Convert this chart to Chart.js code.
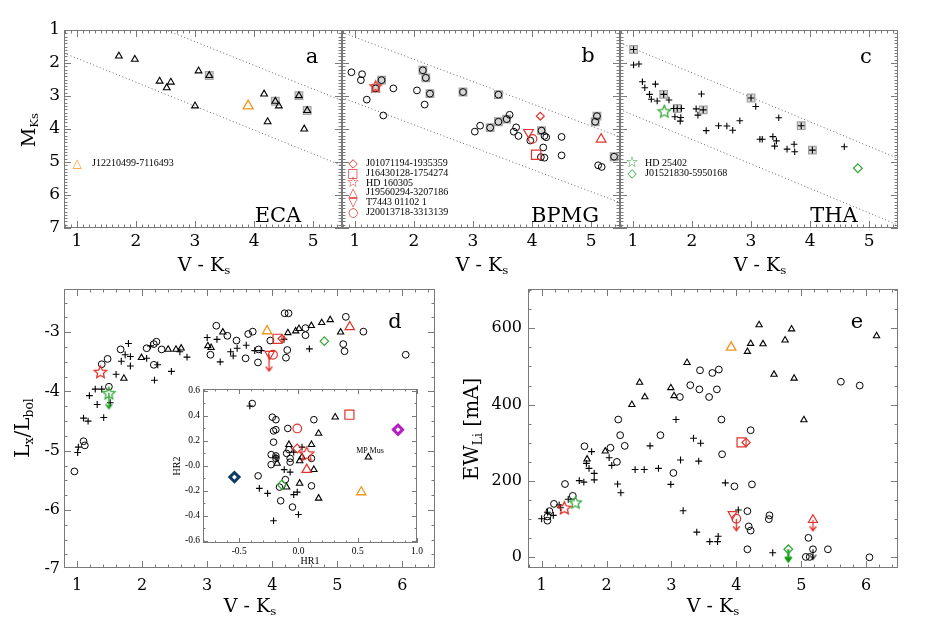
<!DOCTYPE html>
<html><head><meta charset="utf-8"><title>Young association members</title>
<script src="https://cdn.jsdelivr.net/npm/chart.js@4.4.1/dist/chart.umd.min.js"></script>
<style>
html,body{margin:0;padding:0;background:#fff;}
#fig{position:relative;width:926px;height:618px;overflow:hidden;background:#fff;}
#fig canvas{position:absolute;}
.t{position:absolute;white-space:nowrap;color:#000;line-height:1;font-family:'DejaVu Serif',serif;transform:translate(-50%,-50%);}
.rot{transform:translate(-50%,-50%) rotate(-90deg);}
.l{position:absolute;white-space:nowrap;color:#000;line-height:1;font-family:'Liberation Serif',serif;font-size:10px;transform:translateY(-50%);}
.g{position:absolute;line-height:1;font-family:'DejaVu Sans',sans-serif;font-size:12px;transform:translate(-50%,-50%);}
sub{font-size:0.62em;vertical-align:-0.3em;line-height:0;}
</style></head>
<body><div id="fig">
<canvas id="ca"></canvas><canvas id="cb"></canvas><canvas id="cc"></canvas>
<canvas id="cd"></canvas><canvas id="ce"></canvas><canvas id="ci"></canvas>

<div class="t rot" style="left:28px;top:130px;font-size:19px">M<sub>Ks</sub></div>
<div class="t" style="left:204px;top:264px;font-size:19px">V - K<sub>s</sub></div>
<div class="t" style="left:482px;top:264px;font-size:19px">V - K<sub>s</sub></div>
<div class="t" style="left:760px;top:264px;font-size:19px">V - K<sub>s</sub></div>
<div class="t" style="left:250px;top:605px;font-size:19px">V - K<sub>s</sub></div>
<div class="t" style="left:713px;top:605px;font-size:19px">V - K<sub>s</sub></div>
<div class="t rot" style="left:22px;top:428px;font-size:20px">L<sub>x</sub>/L<sub>bol</sub></div>
<div class="t rot" style="left:471px;top:429px;font-size:20px">EW<sub>Li</sub> [mA]</div>

<div class="t" style="left:312px;top:56px;font-size:21px">a</div>
<div class="t" style="left:588px;top:55px;font-size:21px">b</div>
<div class="t" style="left:866px;top:56px;font-size:21px">c</div>
<div class="t" style="left:395px;top:321px;font-size:21px">d</div>
<div class="t" style="left:857px;top:321px;font-size:21px">e</div>
<div class="t" style="left:278px;top:215px;font-size:21px">ECA</div>
<div class="t" style="left:565px;top:215px;font-size:21px">BPMG</div>
<div class="t" style="left:834px;top:215px;font-size:21px">THA</div>

<div class="g" style="left:77px;top:163px;color:#f0961e">△</div>
<div class="l" style="left:92px;top:163px">J12210499-7116493</div>

<div class="g" style="left:353px;top:163px;color:#e0332b">◇</div>
<div class="l" style="left:366px;top:163px">J01071194-1935359</div>
<div class="g" style="left:353px;top:173px;color:#e0332b">□</div>
<div class="l" style="left:366px;top:173px">J16430128-1754274</div>
<div class="g" style="left:353px;top:182px;color:#e0332b;font-size:15px">☆</div>
<div class="l" style="left:366px;top:183px">HD 160305</div>
<div class="g" style="left:353px;top:192px;color:#e0332b">△</div>
<div class="l" style="left:366px;top:192px">J19560294-3207186</div>
<div class="g" style="left:353px;top:202px;color:#e0332b">▽</div>
<div class="l" style="left:366px;top:202px">T7443 01102 1</div>
<div class="g" style="left:353px;top:212px;color:#e0332b">○</div>
<div class="l" style="left:366px;top:212px">J20013718-3313139</div>

<div class="g" style="left:632px;top:162px;color:#34a83a;font-size:15px">☆</div>
<div class="l" style="left:645px;top:163px">HD 25402</div>
<div class="g" style="left:632px;top:173px;color:#34a83a">◇</div>
<div class="l" style="left:645px;top:173px">J01521830-5950168</div>

<div class="t" style="left:310px;top:561px;font-size:10px;font-family:'Liberation Serif',serif">HR1</div>
<div class="t rot" style="left:177px;top:466px;font-size:10px;font-family:'Liberation Serif',serif">HR2</div>
<div class="t" style="left:370px;top:451px;font-size:8px;font-family:'Liberation Serif',serif">MP Mus</div>
</div>
<script>
// ---------------- DATA ----------------
// Tick labels
const VK_TICKS_TOP = [1, 2, 3, 4, 5];
const MKS_TICKS = [1, 2, 3, 4, 5, 6, 7];
const VK_TICKS_BOT = [1, 2, 3, 4, 5, 6];
const LX_TICKS = [-7, -6, -5, -4, -3];
const EW_TICKS = [0, 200, 400, 600];
const HR1_TICKS = [-0.5, 0, 0.5, 1.0];
const HR2_TICKS = [-0.6, -0.4, -0.2, 0, 0.2, 0.4, 0.6];

// Panel a: ECA  [V-Ks, M_Ks]
const ecaTri = [[1.71,1.79],[1.98,1.89],[2.40,2.55],[2.52,2.75],[2.59,2.58],[3.06,2.24],[3.24,2.38],[3.00,3.30],[4.17,2.94],[4.36,3.16],[4.42,3.30],[4.23,3.78],[4.76,2.99],[4.90,3.44],[4.85,4.00]];
const ecaBoxed = [[3.24,2.38],[4.36,3.16],[4.76,2.99],[4.90,3.44]];
const ecaJ1221 = [[3.90,3.30]];
const ecaIsoLow = [[0.78,1.70],[5.49,5.11]];
const ecaIsoUp = [[0.78,-0.24],[5.49,3.14]];

// Panel b: BPMG
const bpmgCirc = [[0.94,2.28],[1.12,2.34],[1.10,2.52],[1.45,2.52],[1.35,2.77],[1.20,3.11],[1.48,3.59],[1.65,2.77],[2.05,2.83],[2.15,2.22],[2.20,2.45],[2.27,2.93],[2.18,3.26],[2.83,2.88],[3.43,2.96],[3.03,4.08],[3.12,3.90],[3.29,3.96],[3.43,3.78],[3.57,3.70],[3.62,3.57],[3.73,3.95],[3.69,4.08],[3.77,4.21],[3.97,4.35],[4.16,4.05],[4.21,4.21],[4.24,4.25],[4.19,4.56],[4.15,4.85],[4.21,4.87],[4.50,4.24],[4.50,4.80],[5.10,3.61],[5.07,3.78],[5.12,5.10],[5.18,5.15],[5.39,4.84]];
const bpmgBoxed = [[1.45,2.52],[1.35,2.77],[2.15,2.22],[2.20,2.45],[2.27,2.93],[2.83,2.88],[3.43,2.96],[3.29,3.96],[3.43,3.78],[3.57,3.70],[4.16,4.05],[5.10,3.61],[5.07,3.78],[5.39,4.84]];
const bpmgJ0107 = [[4.14,3.61]];
const bpmgJ1643 = [[4.07,4.78]];
const bpmgHD160305 = [[1.35,2.69]];
const bpmgJ1956 = [[5.17,4.31]];
const bpmgT7443 = [[3.94,4.10]];
const bpmgJ2001 = [[4.01,4.30]];
const bpmgIsoLow = [[0.78,3.05],[5.49,6.23]];
const bpmgIsoUp = [[0.78,1.07],[5.49,4.24]];

// Panel c: THA
const thaPlus = [[1.01,1.59],[1.01,2.06],[1.10,2.03],[1.16,2.57],[1.20,2.75],[1.38,2.64],[1.28,2.95],[1.31,3.10],[1.41,3.15],[1.52,2.95],[1.61,3.12],[1.69,3.38],[1.75,3.38],[1.82,3.38],[1.71,3.63],[1.81,3.65],[1.80,3.76],[2.16,2.94],[2.07,3.39],[2.19,3.42],[2.10,3.58],[2.24,4.05],[2.45,3.90],[2.59,3.91],[2.69,4.04],[2.81,3.75],[3.00,3.06],[3.08,3.32],[3.47,3.66],[3.15,4.31],[3.19,4.31],[3.37,4.23],[3.43,4.36],[3.40,4.52],[3.61,4.61],[3.73,4.46],[3.74,4.69],[3.85,3.90],[4.04,4.64],[4.58,4.54]];
const thaBoxed = [[1.01,1.59],[1.52,2.95],[1.75,3.38],[2.19,3.42],[3.00,3.06],[3.85,3.90],[4.04,4.64]];
const thaHD25402 = [[1.53,3.45]];
const thaJ0152 = [[4.81,5.19]];
const thaIsoLow = [[0.78,3.41],[5.49,6.91]];
const thaIsoUp = [[0.78,1.39],[5.49,4.89]];

// Panel d: V-Ks vs log Lx/Lbol
const dTri = [[3.24,-3.00],[3.01,-3.23],[3.06,-3.26],[4.24,-3.01],[4.36,-2.98],[4.41,-2.94],[4.60,-2.89],[4.76,-2.84],[4.89,-2.79],[5.05,-3.00],[1.72,-3.78],[1.99,-3.43],[2.40,-3.29],[2.52,-3.29],[2.60,-3.27]];
const dCirc = [[3.14,-2.89],[3.31,-3.06],[3.45,-3.14],[3.63,-3.03],[3.70,-2.99],[3.97,-3.14],[4.19,-2.68],[4.25,-2.68],[4.51,-2.93],[5.13,-2.74],[5.40,-2.99],[4.51,-3.05],[5.09,-3.20],[5.11,-3.32],[6.05,-3.38],[4.23,-3.30],[4.21,-3.43],[3.79,-3.29],[3.78,-3.51],[3.59,-3.44],[3.05,-3.38],[1.67,-3.29],[2.07,-3.27],[2.18,-3.20],[2.22,-3.16],[2.30,-3.29],[2.18,-3.55],[1.47,-3.45],[1.38,-3.54],[1.49,-3.92],[1.10,-4.84],[1.12,-4.91],[0.96,-5.35]];
const dPlus = [[1.79,-3.19],[1.74,-3.38],[1.68,-3.49],[1.82,-3.57],[1.60,-3.71],[1.82,-3.41],[2.07,-3.44],[2.13,-3.23],[2.24,-3.55],[2.19,-3.81],[2.45,-3.66],[2.58,-3.33],[2.69,-3.42],[1.28,-3.96],[1.38,-3.96],[1.19,-4.07],[1.31,-4.22],[1.10,-4.45],[1.17,-4.50],[1.41,-4.44],[1.51,-4.19],[1.02,-4.94],[1.01,-5.03],[3.00,-3.09],[3.15,-3.12],[3.20,-3.50],[3.36,-3.33],[3.40,-3.40],[3.46,-3.27],[3.60,-3.22],[3.73,-3.31],[3.83,-3.31],[4.18,-3.12],[4.57,-3.28]];
const dJ1221 = [[3.92,-2.98]];
const dJ1643 = [[4.08,-3.11]];
const dJ0107 = [[4.15,-3.11]];
const dHD160305 = [[1.36,-3.66]];
const dJ1956 = [[5.19,-2.91]];
const dT7443 = [[3.96,-3.37]];
const dJ2001 = [[4.01,-3.38]];
const dLimRed = [[3.95,-3.37]];
const dJ0152 = [[4.80,-3.15]];
const dHD25402 = [[1.49,-4.02]];
const dLimGreen = [[1.49,-4.02]];

// Inset: HR1 vs HR2
const inCirc = [[-0.39,0.50],[-0.22,0.39],[-0.19,0.37],[-0.21,0.28],[-0.19,0.29],[-0.09,0.30],[0.13,0.37],[-0.21,0.19],[-0.08,0.13],[-0.23,0.09],[-0.19,0.08],[-0.19,0.06],[-0.10,0.10],[-0.07,0.06],[-0.07,0.03],[0.11,0.06],[-0.23,0.01],[-0.34,-0.08],[-0.11,-0.11],[-0.16,-0.17],[0.11,-0.16],[-0.15,-0.28],[-0.05,-0.33]];
const inTri = [[0.31,0.39],[0.17,0.26],[-0.08,0.17],[0.11,0.17],[0.01,0.04],[0.03,0.07],[-0.18,0.02],[0.13,-0.03],[0.59,0.07],[-0.10,-0.17],[0.01,-0.14],[0.17,-0.26]];
const inPlus = [[-0.41,0.48],[0.03,0.15],[-0.04,0.11],[-0.19,0.07],[-0.12,-0.03],[-0.07,-0.05],[-0.33,-0.18],[-0.26,-0.22],[-0.04,-0.23],[-0.01,-0.21],[0.00,-0.39],[-0.21,-0.44]];
const inJ2001 = [[-0.01,0.30]];
const inJ1643 = [[0.43,0.41]];
const inMagenta = [[0.84,0.29]];
const inJ0107 = [[-0.01,0.14]];
const inHD160305 = [[0.07,0.10]];
const inJ1956 = [[0.07,-0.03]];
const inNavy = [[-0.54,-0.09]];
const inJ1221 = [[0.53,-0.21]];
const inJ0152 = [[-0.14,-0.15]];

// Panel e: V-Ks vs EW(Li)
const eTri = [[4.35,609],[4.85,598],[6.16,580],[4.75,569],[4.22,560],[4.41,559],[4.17,539],[3.24,510],[4.58,479],[4.89,469],[2.51,458],[2.99,444],[2.59,420],[3.04,423],[2.39,400],[5.04,360],[1.98,278],[1.70,257]];
const eCirc = [[3.44,490],[3.63,483],[3.73,492],[3.29,451],[3.43,440],[3.58,420],[3.70,440],[3.13,420],[5.61,460],[5.90,450],[3.77,361],[4.22,333],[3.78,270],[4.24,191],[3.97,186],[3.03,221],[2.18,361],[2.21,320],[2.28,292],[2.06,287],[2.16,250],[2.83,320],[1.66,291],[1.36,192],[1.48,161],[1.19,140],[1.12,121],[1.09,107],[1.09,96],[4.17,121],[4.51,110],[4.50,100],[4.19,81],[4.22,70],[4.17,21],[5.11,51],[5.41,21],[5.07,1],[5.13,1],[6.05,0],[5.18,21]];
const ePlus = [[1.00,101],[1.09,118],[1.18,110],[1.27,137],[1.29,130],[1.41,152],[1.58,201],[1.65,197],[1.69,246],[1.73,233],[1.77,277],[1.81,220],[1.81,203],[2.04,261],[2.08,241],[2.17,192],[2.22,169],[2.44,230],[2.58,230],[2.67,292],[2.80,233],[2.99,191],[3.07,361],[3.14,255],[3.18,122],[3.34,312],[3.45,299],[3.42,252],[3.39,66],[3.59,41],[3.71,41],[3.72,55],[3.83,195],[4.03,124],[4.56,12]];
const eJ1221 = [[3.92,550]];
const eJ1643 = [[4.08,301]];
const eJ0107 = [[4.15,301]];
const eT7443 = [[3.94,113]];
const eJ2001 = [[4.00,101]];
const eJ1956 = [[5.18,98]];
const eJ0152 = [[4.80,21]];
const eHD160305 = [[1.35,131]];
const eHD25402 = [[1.52,145]];
const eLimBlack = [[5.18,21]];

// ---------------- STYLE HELPERS ----------------
const FONT = "'DejaVu Serif', serif";
const RED = '#e0332b', ORANGE = '#f0961e', GREEN = '#34a83a', DGREEN = '#109a10', NAVY = '#0d3b63', MAGENTA = '#b31fc4';
const BOXF = '#d6d6d6', BOXB = '#a2a2a2';

const P = a => a.map(([x, y]) => ({x, y}));
function mk(data, style, r, col, o) {
  return Object.assign({type:'scatter', data:P(data), pointStyle:style, pointRadius:r,
    pointBorderColor:col, pointBackgroundColor:'rgba(0,0,0,0)', pointBorderWidth:1, pointRotation:0, order:5}, o || {});
}
const boxes = d => mk(d, 'rect', 5.4, BOXB, {pointBackgroundColor:BOXF, pointBorderWidth:1.2, order:10});
const iso = d => ({type:'line', data:P(d), borderColor:'#666', borderWidth:1, borderDash:[1,2.5], pointRadius:0, order:20, fill:false});

function starImg(color, R, lw) {
  const s = Math.ceil(2 * R + lw + 2) | 1;
  const c = document.createElement('canvas'); c.width = c.height = s;
  const g = c.getContext('2d'); g.strokeStyle = color; g.lineWidth = lw; g.lineJoin = 'miter';
  g.beginPath();
  for (let i = 0; i < 10; i++) {
    const r = i % 2 ? R * 0.47 : R, a = -Math.PI / 2 + i * Math.PI / 5;
    const x = s / 2 + r * Math.cos(a), y = s / 2 + 1 + r * Math.sin(a);
    i ? g.lineTo(x, y) : g.moveTo(x, y);
  }
  g.closePath(); g.stroke();
  return c;
}
function arrowImg(color, L, lw) {
  const w = 9, h = 2 * L + 4;
  const c = document.createElement('canvas'); c.width = w; c.height = h;
  const g = c.getContext('2d'); g.strokeStyle = color; g.lineWidth = lw;
  const cx = w / 2, cy = h / 2;
  g.beginPath(); g.moveTo(cx, cy); g.lineTo(cx, cy + L);
  g.moveTo(cx - 3.2, cy + L - 4.5); g.lineTo(cx, cy + L); g.lineTo(cx + 3.2, cy + L - 4.5);
  g.stroke();
  return c;
}

// inward tick marks and frame (IDL style)
const frameTicks = {
  id:'frameTicks',
  afterDatasetsDraw(chart, args, f) {
    const {ctx, chartArea:a} = chart, x = chart.scales.x, y = chart.scales.y;
    ctx.save(); ctx.strokeStyle = '#7a7a7a'; ctx.lineWidth = 1;
    const iter = (min, max, step, maj, cb) => {
      const n0 = Math.ceil(Math.min(min, max) / step - 1e-9), n1 = Math.floor(Math.max(min, max) / step + 1e-9);
      for (let n = n0; n <= n1; n++) {
        const v = n * step, q = v / maj;
        cb(v, Math.abs(q - Math.round(q)) < 1e-6 ? f.L : f.l);
      }
    };
    ctx.beginPath();
    iter(x.min, x.max, f.xm, f.xM, (v, len) => {
      const px = Math.round(x.getPixelForValue(v)) + 0.5;
      ctx.moveTo(px, a.bottom); ctx.lineTo(px, a.bottom - len);
      ctx.moveTo(px, a.top); ctx.lineTo(px, a.top + len);
    });
    iter(y.min, y.max, f.ym, f.yM, (v, len) => {
      const py = Math.round(y.getPixelForValue(v)) + 0.5;
      ctx.moveTo(a.left, py); ctx.lineTo(a.left + len, py);
      ctx.moveTo(a.right, py); ctx.lineTo(a.right - len, py);
    });
    ctx.stroke();
    ctx.strokeRect(Math.round(a.left) + 0.5, Math.round(a.top) + 0.5, Math.round(a.right - a.left) - 1, Math.round(a.bottom - a.top) - 1);
    ctx.restore();
  }
};

function makeChart(id, area, o) {
  const pad = 18, yW = o.yW || 0, xH = o.xH;
  const cv = document.getElementById(id);
  const W = area.r - area.l + yW + 2 * pad, H = area.b - area.t + xH + 2 * pad;
  cv.width = W; cv.height = H; cv.style.width = W + 'px'; cv.style.height = H + 'px';
  cv.style.left = (area.l - yW - pad) + 'px'; cv.style.top = (area.t - pad) + 'px';
  const fnt = {family:o.font || FONT, size:o.fs};
  return new Chart(cv.getContext('2d'), {
    type:'scatter',
    data:{datasets:o.datasets},
    options:{
      responsive:false, maintainAspectRatio:false, animation:false, events:[], devicePixelRatio:1,
      layout:{padding:pad},
      plugins:{legend:{display:false}, tooltip:{enabled:false}, frameTicks:o.frame},
      scales:{
        x:{type:'linear', position:'bottom', min:o.x[0], max:o.x[1],
          afterFit:s => { s.height = xH; },
          afterBuildTicks:s => { s.ticks = o.xTicks.map(v => ({value:v})); },
          grid:{display:false, drawTicks:false}, border:{display:false},
          ticks:{padding:o.xPad, font:fnt, color:'#000', maxRotation:0, minRotation:0, autoSkip:false,
            callback:o.xFmt || (v => String(v))}},
        y:{type:'linear', position:'left', display:yW > 0, reverse:!!o.rev, min:o.y[0], max:o.y[1],
          afterFit:s => { s.width = yW; },
          afterBuildTicks:s => { s.ticks = o.yTicks.map(v => ({value:v})); },
          grid:{display:false, drawTicks:false}, border:{display:false},
          ticks:{padding:o.yPad || 4, font:fnt, color:'#000', autoSkip:false,
            callback:o.yFmt || (v => String(v))}}
      }
    },
    plugins:[frameTicks]
  });
}

const topFrame = {xm:0.1, xM:1, ym:0.1, yM:1, L:7, l:3.5};
const topCommon = {x:[0.78, 5.49], y:[1, 7], rev:true, xTicks:VK_TICKS_TOP, yTicks:MKS_TICKS, fs:17, xH:30, xPad:3.5, frame:topFrame};

// Panel a
makeChart('ca', {l:64, t:30, r:342, b:228}, Object.assign({}, topCommon, {yW:60, yPad:4, datasets:[
  iso(ecaIsoLow), iso(ecaIsoUp),
  boxes(ecaBoxed),
  mk(ecaTri, 'triangle', 3.9, '#000', {pointBorderWidth:1.1}),
  mk(ecaJ1221, 'triangle', 5.8, ORANGE, {pointBorderWidth:1.3, order:1})
]}));

// Panel b
makeChart('cb', {l:342, t:30, r:620, b:228}, Object.assign({}, topCommon, {yW:0, datasets:[
  iso(bpmgIsoLow), iso(bpmgIsoUp),
  boxes(bpmgBoxed),
  mk(bpmgCirc, 'circle', 3.4, '#000'),
  mk(bpmgJ0107, 'rectRot', 3.9, RED, {pointBorderWidth:1.2, order:1}),
  mk(bpmgJ1643, 'rect', 6.6, RED, {pointBorderWidth:1.2, order:1}),
  mk(bpmgHD160305, starImg(RED, 6, 1.3), 5, RED, {order:1}),
  mk(bpmgJ1956, 'triangle', 5.6, RED, {pointBorderWidth:1.2, order:1}),
  mk(bpmgT7443, 'triangle', 5.6, RED, {pointBorderWidth:1.2, pointRotation:180, order:1}),
  mk(bpmgJ2001, 'circle', 4.2, RED, {pointBorderWidth:1.2, order:1})
]}));

// Panel c
makeChart('cc', {l:620, t:30, r:898, b:228}, Object.assign({}, topCommon, {yW:0, datasets:[
  iso(thaIsoLow), iso(thaIsoUp),
  boxes(thaBoxed),
  mk(thaPlus, 'cross', 3.3, '#000', {pointBorderWidth:1.1}),
  mk(thaHD25402, starImg(GREEN, 6.5, 1.3), 5, GREEN, {order:1}),
  mk(thaJ0152, 'rectRot', 4.4, GREEN, {pointBorderWidth:1.2, order:1})
]}));

// Panel d
makeChart('cd', {l:64, t:289, r:435, b:568}, {
  x:[0.8, 6.5], y:[-6.98, -2.27], xTicks:VK_TICKS_BOT, yTicks:LX_TICKS, fs:16, yW:60, yPad:4, xH:30, xPad:8.4,
  frame:{xm:0.2, xM:1, ym:0.25, yM:1, L:7, l:3.5},
  datasets:[
    mk(dTri, 'triangle', 3.6, '#000', {pointBorderWidth:1.1}),
    mk(dCirc, 'circle', 3.4, '#000'),
    mk(dPlus, 'cross', 3.4, '#000', {pointBorderWidth:1.1}),
    mk(dJ1221, 'triangle', 5.4, ORANGE, {pointBorderWidth:1.3, order:1}),
    mk(dJ1643, 'rect', 6.4, RED, {pointBorderWidth:1.2, order:1}),
    mk(dJ0107, 'rectRot', 4.0, RED, {pointBorderWidth:1.2, order:1}),
    mk(dHD160305, starImg(RED, 6.5, 1.3), 5, RED, {order:1}),
    mk(dJ1956, 'triangle', 5.4, RED, {pointBorderWidth:1.2, order:1}),
    mk(dT7443, 'triangle', 5.4, RED, {pointBorderWidth:1.2, pointRotation:180, order:1}),
    mk(dJ2001, 'circle', 4.4, RED, {pointBorderWidth:1.2, order:1}),
    mk(dLimRed, arrowImg(RED, 17, 1.3), 5, RED, {order:1}),
    mk(dJ0152, 'rectRot', 4.2, GREEN, {pointBorderWidth:1.2, order:1}),
    mk(dHD25402, starImg(GREEN, 6.5, 1.3), 5, GREEN, {order:1}),
    mk(dLimGreen, arrowImg(DGREEN, 16, 1.3), 5, DGREEN, {order:1})
  ]
});

// Inset of panel d
makeChart('ci', {l:203, t:389, r:417, b:543}, {
  x:[-0.805, 1.0], y:[-0.618, 0.616], xTicks:HR1_TICKS, yTicks:HR2_TICKS, fs:9.5, font:"'Liberation Serif', serif",
  yW:30, yPad:3, xH:14, xPad:3,
  xFmt:v => v.toFixed(1), yFmt:v => (Math.abs(v) < 1e-9 ? '-0.0' : v.toFixed(1)),
  frame:{xm:0.1, xM:0.5, ym:0.1, yM:0.2, L:5, l:2.5},
  datasets:[
    mk(inCirc, 'circle', 3.3, '#000'),
    mk(inTri, 'triangle', 3.7, '#000', {pointBorderWidth:1.1}),
    mk(inPlus, 'cross', 3.3, '#000', {pointBorderWidth:1.1}),
    mk(inJ2001, 'circle', 4.3, RED, {pointBorderWidth:1.2, order:1}),
    mk(inJ1643, 'rect', 6.4, RED, {pointBorderWidth:1.2, order:1}),
    mk(inMagenta, 'rectRot', 4.6, MAGENTA, {pointBorderWidth:3, pointBackgroundColor:'#fff', order:1}),
    mk(inJ0107, 'rectRot', 4.4, RED, {pointBorderWidth:1.2, order:1}),
    mk(inHD160305, starImg(RED, 7.5, 1.3), 5, RED, {order:1}),
    mk(inJ1956, 'triangle', 5.5, RED, {pointBorderWidth:1.2, order:1}),
    mk(inNavy, 'rectRot', 4.6, NAVY, {pointBorderWidth:3, pointBackgroundColor:'#fff', order:1}),
    mk(inJ1221, 'triangle', 5.3, ORANGE, {pointBorderWidth:1.3, order:1}),
    mk(inJ0152, 'rectRot', 4.5, GREEN, {pointBorderWidth:1.3, order:1})
  ]
});

// Panel e
makeChart('ce', {l:528, t:289, r:898, b:568}, {
  x:[0.79, 6.49], y:[-28, 703], xTicks:VK_TICKS_BOT, yTicks:EW_TICKS, fs:16, yW:60, yPad:6, xH:30, xPad:8.4,
  frame:{xm:0.2, xM:1, ym:50, yM:200, L:7, l:3.5},
  datasets:[
    mk(eTri, 'triangle', 3.6, '#000', {pointBorderWidth:1.1}),
    mk(eCirc, 'circle', 3.4, '#000'),
    mk(ePlus, 'cross', 3.4, '#000', {pointBorderWidth:1.1}),
    mk(eLimBlack, arrowImg('#000', 10, 1.1), 5, '#000'),
    mk(eJ1221, 'triangle', 5.5, ORANGE, {pointBorderWidth:1.3, order:1}),
    mk(eJ1643, 'rect', 6.4, RED, {pointBorderWidth:1.2, order:1}),
    mk(eJ0107, 'rectRot', 4.1, RED, {pointBorderWidth:1.2, order:1}),
    mk(eT7443, 'triangle', 5.0, RED, {pointBorderWidth:1.2, pointRotation:180, order:1}),
    mk(eJ2001, 'circle', 4.3, RED, {pointBorderWidth:1.2, order:1}),
    mk(eJ2001, arrowImg(RED, 12, 1.3), 5, RED, {order:1}),
    mk(eJ1956, 'triangle', 5.2, RED, {pointBorderWidth:1.2, order:1}),
    mk(eJ1956, arrowImg(RED, 11, 1.3), 5, RED, {order:1}),
    mk(eJ0152, 'rectRot', 4.3, GREEN, {pointBorderWidth:1.3, order:1}),
    mk(eJ0152, arrowImg(DGREEN, 12, 2.2), 5, DGREEN, {order:1}),
    mk(eHD160305, starImg(RED, 6.7, 1.3), 5, RED, {order:1}),
    mk(eHD25402, starImg(GREEN, 6.2, 1.3), 5, GREEN, {order:1})
  ]
});
</script>
</body></html>
